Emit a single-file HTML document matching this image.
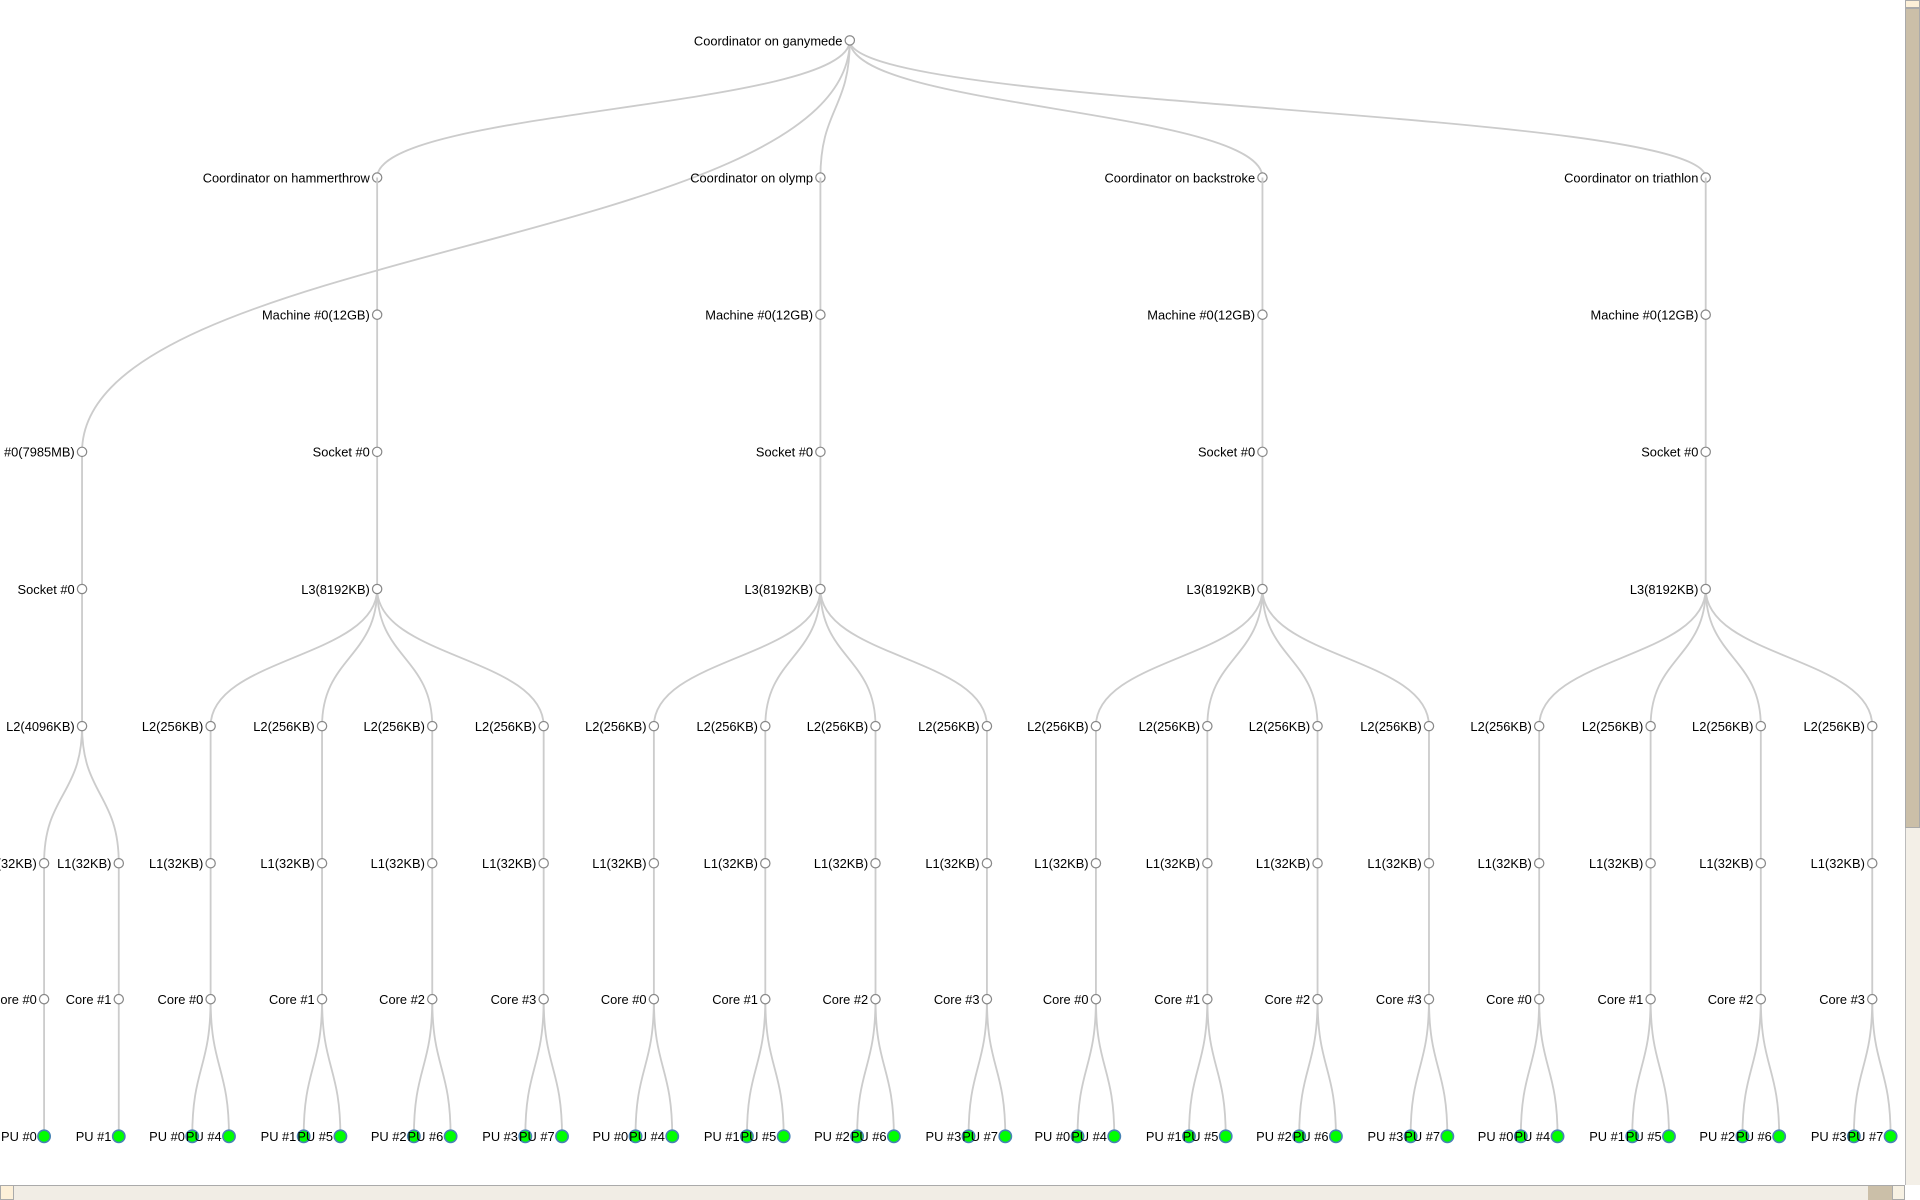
<!DOCTYPE html>
<html><head><meta charset="utf-8"><style>
html,body{margin:0;padding:0;background:#fff;width:1920px;height:1200px;overflow:hidden;position:relative}
svg{position:absolute;left:0;top:0}
text{font-family:"Liberation Sans",Arial,sans-serif;font-size:10.5px;fill:#000;text-anchor:end;transform:translateX(2px)}
path,line{fill:none;stroke:#ccc;stroke-width:1.5}
circle{fill:#fff;stroke:#888;stroke-width:1}
circle.pu{fill:#00ff00;stroke:#4682b4;stroke-width:1.3}
.vs{position:absolute;left:1905px;top:0;width:15px;height:1185px;background:#f3efe7;border-left:1px solid #bbb;box-sizing:border-box}
.vt{position:absolute;left:1905px;top:8px;width:15px;height:820px;background:#cbbfa8;border:1px solid #aaa;box-sizing:border-box}
.hs{position:absolute;left:0;top:1185px;width:1905px;height:15px;background:#f1ede5;border-top:1px solid #aaa;box-sizing:border-box}
.ht{position:absolute;left:1868px;top:1185px;width:24px;height:15px;background:#cbbfa8;border-top:1px solid #aaa;box-sizing:border-box}
.ha{position:absolute;left:1892px;top:1185px;width:13px;height:15px;background:#f7f1e3;border:1px solid #aaa;box-sizing:border-box}
.hl{position:absolute;left:0;top:1185px;width:14px;height:15px;background:#fdf0d8;border:1px solid #aaa;box-sizing:border-box}
.va{position:absolute;left:1905px;top:0;width:15px;height:8px;background:#fdf0d8;border:1px solid #aaa;box-sizing:border-box}
</style></head><body>
<svg width="1920" height="1200" viewBox="0 0 1568 980">
<path d="M694,33C694,89 308,89 308,145"/>
<path d="M694,33C694,89 670,89 670,145"/>
<path d="M694,33C694,89 1031,89 1031,145"/>
<path d="M694,33C694,89 1393,89 1393,145"/>
<path d="M694,33C694,201 67,201 67,369"/>
<line x1="67" y1="369" x2="67" y2="593"/>
<path d="M67,593C67,649 36,649 36,705"/>
<path d="M67,593C67,649 97,649 97,705"/>
<line x1="36" y1="705" x2="36" y2="928"/>
<line x1="97" y1="705" x2="97" y2="928"/>
<circle cx="67" cy="369" r="3.8"/><text x="59" y="373">Machine #0(7985MB)</text>
<circle cx="67" cy="481" r="3.8"/><text x="59" y="485">Socket #0</text>
<circle cx="67" cy="593" r="3.8"/><text x="59" y="597">L2(4096KB)</text>
<circle cx="36" cy="705" r="3.8"/><text x="28" y="709">L1(32KB)</text>
<circle cx="97" cy="705" r="3.8"/><text x="89" y="709">L1(32KB)</text>
<circle cx="36" cy="816" r="3.8"/><text x="28" y="820">Core #0</text>
<circle cx="97" cy="816" r="3.8"/><text x="89" y="820">Core #1</text>
<circle class="pu" cx="36" cy="928" r="5"/><text x="28" y="932">PU #0</text>
<circle class="pu" cx="97" cy="928" r="5"/><text x="89" y="932">PU #1</text>

<circle cx="694" cy="33" r="3.8"/><text x="686" y="37">Coordinator on ganymede</text>
<circle cx="308" cy="145" r="3.8"/><text x="300" y="149">Coordinator on hammerthrow</text>
<circle cx="670" cy="145" r="3.8"/><text x="662" y="149">Coordinator on olymp</text>
<circle cx="1031" cy="145" r="3.8"/><text x="1023" y="149">Coordinator on backstroke</text>
<circle cx="1393" cy="145" r="3.8"/><text x="1385" y="149">Coordinator on triathlon</text>

<g>
<line x1="308" y1="145" x2="308" y2="481"/>
<path d="M308,481C308,537 172,537 172,593"/>
<path d="M308,481C308,537 263,537 263,593"/>
<path d="M308,481C308,537 353,537 353,593"/>
<path d="M308,481C308,537 444,537 444,593"/>
<line x1="172" y1="593" x2="172" y2="816"/>
<line x1="263" y1="593" x2="263" y2="816"/>
<line x1="353" y1="593" x2="353" y2="816"/>
<line x1="444" y1="593" x2="444" y2="816"/>
<path d="M172,816C172,872 157,872 157,928"/><path d="M172,816C172,872 187,872 187,928"/>
<path d="M263,816C263,872 248,872 248,928"/><path d="M263,816C263,872 278,872 278,928"/>
<path d="M353,816C353,872 338,872 338,928"/><path d="M353,816C353,872 368,872 368,928"/>
<path d="M444,816C444,872 429,872 429,928"/><path d="M444,816C444,872 459,872 459,928"/>
<circle cx="308" cy="257" r="3.8"/><text x="300" y="261">Machine #0(12GB)</text>
<circle cx="308" cy="369" r="3.8"/><text x="300" y="373">Socket #0</text>
<circle cx="308" cy="481" r="3.8"/><text x="300" y="485">L3(8192KB)</text>
<circle cx="172" cy="593" r="3.8"/><text x="164" y="597">L2(256KB)</text>
<circle cx="263" cy="593" r="3.8"/><text x="255" y="597">L2(256KB)</text>
<circle cx="353" cy="593" r="3.8"/><text x="345" y="597">L2(256KB)</text>
<circle cx="444" cy="593" r="3.8"/><text x="436" y="597">L2(256KB)</text>
<circle cx="172" cy="705" r="3.8"/><text x="164" y="709">L1(32KB)</text>
<circle cx="263" cy="705" r="3.8"/><text x="255" y="709">L1(32KB)</text>
<circle cx="353" cy="705" r="3.8"/><text x="345" y="709">L1(32KB)</text>
<circle cx="444" cy="705" r="3.8"/><text x="436" y="709">L1(32KB)</text>
<circle cx="172" cy="816" r="3.8"/><text x="164" y="820">Core #0</text>
<circle cx="263" cy="816" r="3.8"/><text x="255" y="820">Core #1</text>
<circle cx="353" cy="816" r="3.8"/><text x="345" y="820">Core #2</text>
<circle cx="444" cy="816" r="3.8"/><text x="436" y="820">Core #3</text>
<circle class="pu" cx="157" cy="928" r="5"/><text x="149" y="932">PU #0</text>
<circle class="pu" cx="187" cy="928" r="5"/><text x="179" y="932">PU #4</text>
<circle class="pu" cx="248" cy="928" r="5"/><text x="240" y="932">PU #1</text>
<circle class="pu" cx="278" cy="928" r="5"/><text x="270" y="932">PU #5</text>
<circle class="pu" cx="338" cy="928" r="5"/><text x="330" y="932">PU #2</text>
<circle class="pu" cx="368" cy="928" r="5"/><text x="360" y="932">PU #6</text>
<circle class="pu" cx="429" cy="928" r="5"/><text x="421" y="932">PU #3</text>
<circle class="pu" cx="459" cy="928" r="5"/><text x="451" y="932">PU #7</text>
</g>

<g transform="translate(362,0)">
<line x1="308" y1="145" x2="308" y2="481"/>
<path d="M308,481C308,537 172,537 172,593"/>
<path d="M308,481C308,537 263,537 263,593"/>
<path d="M308,481C308,537 353,537 353,593"/>
<path d="M308,481C308,537 444,537 444,593"/>
<line x1="172" y1="593" x2="172" y2="816"/>
<line x1="263" y1="593" x2="263" y2="816"/>
<line x1="353" y1="593" x2="353" y2="816"/>
<line x1="444" y1="593" x2="444" y2="816"/>
<path d="M172,816C172,872 157,872 157,928"/><path d="M172,816C172,872 187,872 187,928"/>
<path d="M263,816C263,872 248,872 248,928"/><path d="M263,816C263,872 278,872 278,928"/>
<path d="M353,816C353,872 338,872 338,928"/><path d="M353,816C353,872 368,872 368,928"/>
<path d="M444,816C444,872 429,872 429,928"/><path d="M444,816C444,872 459,872 459,928"/>
<circle cx="308" cy="257" r="3.8"/><text x="300" y="261">Machine #0(12GB)</text>
<circle cx="308" cy="369" r="3.8"/><text x="300" y="373">Socket #0</text>
<circle cx="308" cy="481" r="3.8"/><text x="300" y="485">L3(8192KB)</text>
<circle cx="172" cy="593" r="3.8"/><text x="164" y="597">L2(256KB)</text>
<circle cx="263" cy="593" r="3.8"/><text x="255" y="597">L2(256KB)</text>
<circle cx="353" cy="593" r="3.8"/><text x="345" y="597">L2(256KB)</text>
<circle cx="444" cy="593" r="3.8"/><text x="436" y="597">L2(256KB)</text>
<circle cx="172" cy="705" r="3.8"/><text x="164" y="709">L1(32KB)</text>
<circle cx="263" cy="705" r="3.8"/><text x="255" y="709">L1(32KB)</text>
<circle cx="353" cy="705" r="3.8"/><text x="345" y="709">L1(32KB)</text>
<circle cx="444" cy="705" r="3.8"/><text x="436" y="709">L1(32KB)</text>
<circle cx="172" cy="816" r="3.8"/><text x="164" y="820">Core #0</text>
<circle cx="263" cy="816" r="3.8"/><text x="255" y="820">Core #1</text>
<circle cx="353" cy="816" r="3.8"/><text x="345" y="820">Core #2</text>
<circle cx="444" cy="816" r="3.8"/><text x="436" y="820">Core #3</text>
<circle class="pu" cx="157" cy="928" r="5"/><text x="149" y="932">PU #0</text>
<circle class="pu" cx="187" cy="928" r="5"/><text x="179" y="932">PU #4</text>
<circle class="pu" cx="248" cy="928" r="5"/><text x="240" y="932">PU #1</text>
<circle class="pu" cx="278" cy="928" r="5"/><text x="270" y="932">PU #5</text>
<circle class="pu" cx="338" cy="928" r="5"/><text x="330" y="932">PU #2</text>
<circle class="pu" cx="368" cy="928" r="5"/><text x="360" y="932">PU #6</text>
<circle class="pu" cx="429" cy="928" r="5"/><text x="421" y="932">PU #3</text>
<circle class="pu" cx="459" cy="928" r="5"/><text x="451" y="932">PU #7</text>
</g>

<g transform="translate(723,0)">
<line x1="308" y1="145" x2="308" y2="481"/>
<path d="M308,481C308,537 172,537 172,593"/>
<path d="M308,481C308,537 263,537 263,593"/>
<path d="M308,481C308,537 353,537 353,593"/>
<path d="M308,481C308,537 444,537 444,593"/>
<line x1="172" y1="593" x2="172" y2="816"/>
<line x1="263" y1="593" x2="263" y2="816"/>
<line x1="353" y1="593" x2="353" y2="816"/>
<line x1="444" y1="593" x2="444" y2="816"/>
<path d="M172,816C172,872 157,872 157,928"/><path d="M172,816C172,872 187,872 187,928"/>
<path d="M263,816C263,872 248,872 248,928"/><path d="M263,816C263,872 278,872 278,928"/>
<path d="M353,816C353,872 338,872 338,928"/><path d="M353,816C353,872 368,872 368,928"/>
<path d="M444,816C444,872 429,872 429,928"/><path d="M444,816C444,872 459,872 459,928"/>
<circle cx="308" cy="257" r="3.8"/><text x="300" y="261">Machine #0(12GB)</text>
<circle cx="308" cy="369" r="3.8"/><text x="300" y="373">Socket #0</text>
<circle cx="308" cy="481" r="3.8"/><text x="300" y="485">L3(8192KB)</text>
<circle cx="172" cy="593" r="3.8"/><text x="164" y="597">L2(256KB)</text>
<circle cx="263" cy="593" r="3.8"/><text x="255" y="597">L2(256KB)</text>
<circle cx="353" cy="593" r="3.8"/><text x="345" y="597">L2(256KB)</text>
<circle cx="444" cy="593" r="3.8"/><text x="436" y="597">L2(256KB)</text>
<circle cx="172" cy="705" r="3.8"/><text x="164" y="709">L1(32KB)</text>
<circle cx="263" cy="705" r="3.8"/><text x="255" y="709">L1(32KB)</text>
<circle cx="353" cy="705" r="3.8"/><text x="345" y="709">L1(32KB)</text>
<circle cx="444" cy="705" r="3.8"/><text x="436" y="709">L1(32KB)</text>
<circle cx="172" cy="816" r="3.8"/><text x="164" y="820">Core #0</text>
<circle cx="263" cy="816" r="3.8"/><text x="255" y="820">Core #1</text>
<circle cx="353" cy="816" r="3.8"/><text x="345" y="820">Core #2</text>
<circle cx="444" cy="816" r="3.8"/><text x="436" y="820">Core #3</text>
<circle class="pu" cx="157" cy="928" r="5"/><text x="149" y="932">PU #0</text>
<circle class="pu" cx="187" cy="928" r="5"/><text x="179" y="932">PU #4</text>
<circle class="pu" cx="248" cy="928" r="5"/><text x="240" y="932">PU #1</text>
<circle class="pu" cx="278" cy="928" r="5"/><text x="270" y="932">PU #5</text>
<circle class="pu" cx="338" cy="928" r="5"/><text x="330" y="932">PU #2</text>
<circle class="pu" cx="368" cy="928" r="5"/><text x="360" y="932">PU #6</text>
<circle class="pu" cx="429" cy="928" r="5"/><text x="421" y="932">PU #3</text>
<circle class="pu" cx="459" cy="928" r="5"/><text x="451" y="932">PU #7</text>
</g>

<g transform="translate(1085,0)">
<line x1="308" y1="145" x2="308" y2="481"/>
<path d="M308,481C308,537 172,537 172,593"/>
<path d="M308,481C308,537 263,537 263,593"/>
<path d="M308,481C308,537 353,537 353,593"/>
<path d="M308,481C308,537 444,537 444,593"/>
<line x1="172" y1="593" x2="172" y2="816"/>
<line x1="263" y1="593" x2="263" y2="816"/>
<line x1="353" y1="593" x2="353" y2="816"/>
<line x1="444" y1="593" x2="444" y2="816"/>
<path d="M172,816C172,872 157,872 157,928"/><path d="M172,816C172,872 187,872 187,928"/>
<path d="M263,816C263,872 248,872 248,928"/><path d="M263,816C263,872 278,872 278,928"/>
<path d="M353,816C353,872 338,872 338,928"/><path d="M353,816C353,872 368,872 368,928"/>
<path d="M444,816C444,872 429,872 429,928"/><path d="M444,816C444,872 459,872 459,928"/>
<circle cx="308" cy="257" r="3.8"/><text x="300" y="261">Machine #0(12GB)</text>
<circle cx="308" cy="369" r="3.8"/><text x="300" y="373">Socket #0</text>
<circle cx="308" cy="481" r="3.8"/><text x="300" y="485">L3(8192KB)</text>
<circle cx="172" cy="593" r="3.8"/><text x="164" y="597">L2(256KB)</text>
<circle cx="263" cy="593" r="3.8"/><text x="255" y="597">L2(256KB)</text>
<circle cx="353" cy="593" r="3.8"/><text x="345" y="597">L2(256KB)</text>
<circle cx="444" cy="593" r="3.8"/><text x="436" y="597">L2(256KB)</text>
<circle cx="172" cy="705" r="3.8"/><text x="164" y="709">L1(32KB)</text>
<circle cx="263" cy="705" r="3.8"/><text x="255" y="709">L1(32KB)</text>
<circle cx="353" cy="705" r="3.8"/><text x="345" y="709">L1(32KB)</text>
<circle cx="444" cy="705" r="3.8"/><text x="436" y="709">L1(32KB)</text>
<circle cx="172" cy="816" r="3.8"/><text x="164" y="820">Core #0</text>
<circle cx="263" cy="816" r="3.8"/><text x="255" y="820">Core #1</text>
<circle cx="353" cy="816" r="3.8"/><text x="345" y="820">Core #2</text>
<circle cx="444" cy="816" r="3.8"/><text x="436" y="820">Core #3</text>
<circle class="pu" cx="157" cy="928" r="5"/><text x="149" y="932">PU #0</text>
<circle class="pu" cx="187" cy="928" r="5"/><text x="179" y="932">PU #4</text>
<circle class="pu" cx="248" cy="928" r="5"/><text x="240" y="932">PU #1</text>
<circle class="pu" cx="278" cy="928" r="5"/><text x="270" y="932">PU #5</text>
<circle class="pu" cx="338" cy="928" r="5"/><text x="330" y="932">PU #2</text>
<circle class="pu" cx="368" cy="928" r="5"/><text x="360" y="932">PU #6</text>
<circle class="pu" cx="429" cy="928" r="5"/><text x="421" y="932">PU #3</text>
<circle class="pu" cx="459" cy="928" r="5"/><text x="451" y="932">PU #7</text>
</g>
</svg>
<div class="vs"></div><div class="vt"></div><div class="va"></div>
<div class="hs"></div><div class="hl"></div><div class="ht"></div><div class="ha"></div>
</body></html>
